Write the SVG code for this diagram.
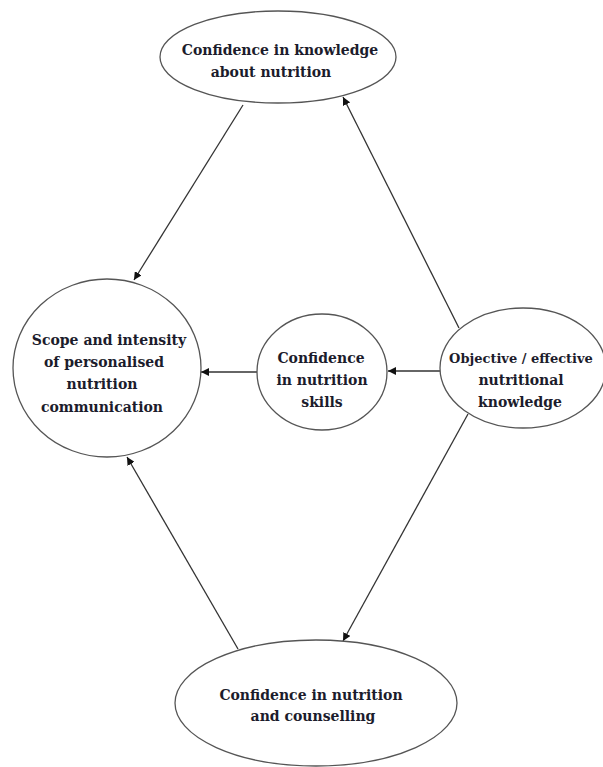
<svg xmlns="http://www.w3.org/2000/svg" width="603" height="767" viewBox="0 0 603 767">
<defs>
<style>
.n{fill:#fff;stroke:#555;stroke-width:1.3}
.t{font-family:"DejaVu Serif","Liberation Serif",serif;font-weight:bold;font-size:14px;fill:#1c1c2c;text-anchor:middle}
.c{stroke:#333;stroke-width:1.3;fill:none;marker-end:url(#ah)}
</style>
<marker id="ah" viewBox="0 0 10 10" refX="10" refY="5" markerWidth="8" markerHeight="8" markerUnits="userSpaceOnUse" orient="auto">
<path d="M0,0 L10,5 L0,10 z" fill="#111"/>
</marker>
</defs>
<rect width="603" height="767" fill="#fff"/>
<g id="connectors">
<line class="c" x1="243" y1="105" x2="134" y2="280"/>
<line class="c" x1="459" y1="328" x2="343" y2="97"/>
<line class="c" x1="257" y1="372" x2="201" y2="372"/>
<line class="c" x1="440" y1="371" x2="388" y2="371"/>
<line class="c" x1="468" y1="414" x2="343" y2="641"/>
<line class="c" x1="238" y1="649" x2="127" y2="457"/>
</g>
<g id="n-knowledge-confidence">
<ellipse class="n" cx="278" cy="57" rx="118" ry="46"/>
<text class="t" x="280" y="55">Confidence in knowledge</text>
<text class="t" x="271" y="77">about nutrition</text>
</g>
<g id="n-scope">
<ellipse class="n" cx="107" cy="368" rx="94" ry="89"/>
<text class="t" x="109" y="345">Scope and intensity</text>
<text class="t" x="104" y="367">of personalised</text>
<text class="t" x="102" y="389">nutrition</text>
<text class="t" x="102" y="412">communication</text>
</g>
<g id="n-skills">
<ellipse class="n" cx="322" cy="372" rx="65" ry="58"/>
<text class="t" x="321" y="363">Confidence</text>
<text class="t" x="322" y="385">in nutrition</text>
<text class="t" x="322" y="407">skills</text>
</g>
<g id="n-objective">
<ellipse class="n" cx="523" cy="368" rx="83" ry="60"/>
<text class="t" x="521" y="363" style="font-size:13px">Objective / effective</text>
<text class="t" x="521" y="385">nutritional</text>
<text class="t" x="520" y="407">knowledge</text>
</g>
<g id="n-counselling">
<ellipse class="n" cx="316" cy="703" rx="141" ry="63"/>
<text class="t" x="311" y="700">Confidence in nutrition</text>
<text class="t" x="313" y="721">and counselling</text>
</g>
</svg>
